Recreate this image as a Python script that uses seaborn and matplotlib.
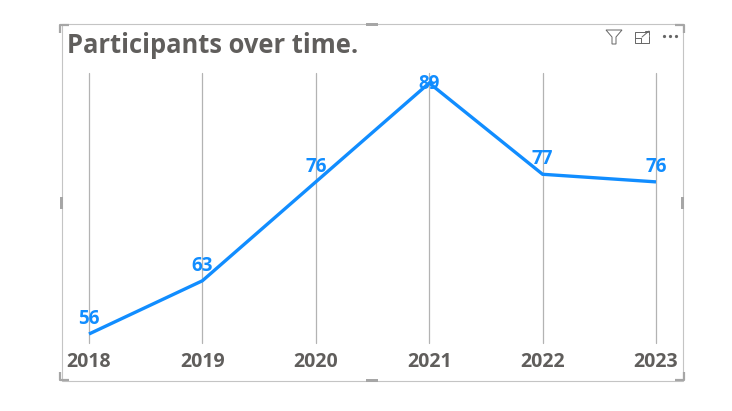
import matplotlib
matplotlib.use("Agg")
import matplotlib.pyplot as plt
from matplotlib.patches import Rectangle, Polygon
import pandas as pd
import seaborn as sns

years = [2018, 2019, 2020, 2021, 2022, 2023]
participants = [56, 63, 76, 89, 77, 76]
title = "Participants over time."

W, H = 732, 411
sns.set_theme(style="white")
plt.rcParams['font.family'] = ['Open Sans', 'DejaVu Sans']

fig = plt.figure(figsize=(W / 100, H / 100), dpi=100, facecolor="white")

# Visual chrome in pixel coordinates
ov = fig.add_axes([0, 0, 1, 1], zorder=5)
ov.set_xlim(0, W); ov.set_ylim(H, 0); ov.axis("off"); ov.patch.set_alpha(0)
FR = "#c4c4c4"; HD = "#a6a6a6"
ov.add_patch(Rectangle((61.5, 24.5), 621, 356, fill=False, ec=FR, lw=0.8))
for (x, y, w, h) in [(366, 23, 12, 3), (366, 379, 12, 3), (60, 197, 3, 12), (681, 197, 3, 12)]:
    ov.add_patch(Rectangle((x, y), w, h, fc=HD, ec="none"))
for cx, cy, sx, sy in [(60, 24, 1, 1), (684, 24, -1, 1), (60, 381, 1, -1), (684, 381, -1, -1)]:
    ov.plot([cx + 9 * sx, cx, cx], [cy + sy, cy + sy, cy + 9 * sy], color=HD, lw=1.6, solid_capstyle="butt")
# header icons
IC = "#666666"
ov.add_patch(Polygon([(606, 30), (622, 30), (616, 37), (616, 44), (612, 44), (612, 37)], fill=False, ec=IC, lw=0.7))
ov.plot([648, 635, 635, 649, 649], [32, 32, 43, 43, 36], color=IC, lw=0.7)
ov.plot([635, 641, 641], [38, 38, 43], color=IC, lw=0.7)
ov.plot([642, 649], [37, 31], color=IC, lw=0.7)
ov.plot([645, 649, 649], [31, 31, 35], color=IC, lw=0.7)
ov.plot([664, 670, 676], [36.5, 36.5, 36.5], ls="none", marker="o", ms=1.3, color=IC)

ov.text(67, 45.5, title, fontsize=18.4, fontweight="bold", color="#605e5c", ha="left", va="center")

# Chart axes
left, right, top, bottom = 89, 656, 73, 343
ax = fig.add_axes([left / W, 1 - bottom / H, (right - left) / W, (bottom - top) / H], zorder=3)
ax.patch.set_alpha(0)
df = pd.DataFrame({"year": years, "participants": participants})
PX_PER = 7.6
ax.set_xlim(years[0], years[-1])
ax.set_ylim(min(participants) - 9 / PX_PER, max(participants) + 10 / PX_PER)
sns.lineplot(data=df, x="year", y="participants", color="#118dff", lw=2.4, ax=ax,
             clip_on=False, solid_joinstyle="miter", solid_capstyle="butt", zorder=3)
sns.despine(ax=ax, left=True, bottom=True, top=True, right=True)
ax.set_xticks(years)
ax.set_xticklabels([str(y) for y in years])
ax.set_yticks([])
ax.set_xlabel(""); ax.set_ylabel("")
ax.grid(axis="x", color="#b3b3b3", lw=0.9, clip_on=False)
for g in ax.get_xgridlines():
    g.set_clip_on(False)
ax.set_axisbelow(True)
ax.tick_params(axis="x", length=0, pad=6.5, labelsize=14, labelcolor="#605e5c")
for t in ax.get_xticklabels():
    t.set_fontweight("bold")
for y, v in zip(years, participants):
    off = -0.7 if v == max(participants) else 10.8
    ax.annotate(str(v), (y, v), xytext=(0, off), textcoords="offset points", ha="center", va="center",
                fontsize=13.5, fontweight="bold", color="#118dff", annotation_clip=False, zorder=4)

fig.savefig("out.png", dpi=100)
